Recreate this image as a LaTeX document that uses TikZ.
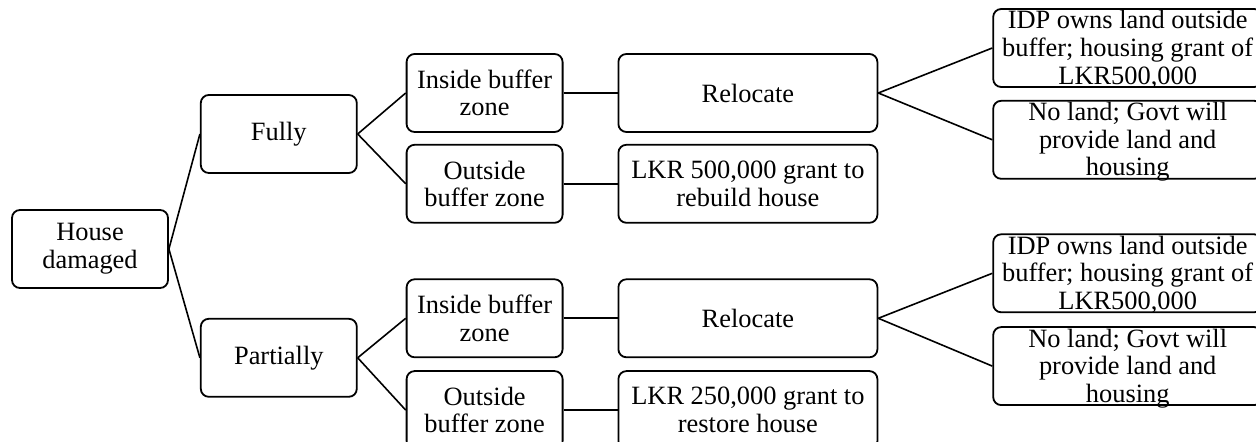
\documentclass[tikz,border=0pt]{standalone}
\usepackage{fontspec}
\setmainfont{Liberation Serif}
\usepackage{tikz}
\usetikzlibrary{positioning}

\begin{document}
\begin{tikzpicture}[inner sep=2pt]
\tikzstyle{choice}=[rectangle, rounded corners=4pt, draw=black, line width=0.9pt, minimum width=78pt, minimum height=39pt, align=center, font=\fontsize{13.2pt}{13.8pt}\selectfont]
\tikzstyle{action}=[choice, minimum width=129.5pt]
\tikzstyle{option}=[choice, minimum width=134.5pt, inner sep=0pt, text height=37.6pt, text depth=1.4pt]
\tikzstyle{link}=[line width=0.8pt]
\useasboundingbox (-45pt,124.5pt) rectangle (583pt,-96.5pt);
\node[choice] (house) at (0,0) {House\\damaged};
\node[choice] (fully) [right=15.5pt of house, yshift=57.5pt] {Fully};
\node[choice] (partially) [below=72pt of fully] {Partially};
% fully damaged
\node[choice] (in1) [right=24pt of fully, yshift=20.5pt] {Inside buffer\\zone};
\node[choice] (out1) [below=5.5pt of in1] {Outside\\buffer zone};
\node[action] (rel1) [right=27pt of in1] {Relocate};
\node[action] (grant1) [right=27pt of out1] {LKR 500,000 grant to\\rebuild house};
\node[option] (idp1) [right=57pt of rel1, yshift=22.5pt] {IDP owns land outside\\buffer; housing grant of\\LKR500,000};
\node[option] (noland1) [below=6pt of idp1] {No land; Govt will\\provide land and\\housing};
% partially damaged
\node[choice] (in2) [right=24pt of partially, yshift=19.75pt] {Inside buffer\\zone};
\node[choice] (out2) [below=6pt of in2] {Outside\\buffer zone};
\node[action] (rel2) [right=27pt of in2] {Relocate};
\node[action] (grant2) [right=27pt of out2] {LKR 250,000 grant to\\restore house};
\node[option] (idp2) [right=57pt of rel2, yshift=22.5pt] {IDP owns land outside\\buffer; housing grant of\\LKR500,000};
\node[option] (noland2) [below=6.5pt of idp2] {No land; Govt will\\provide land and\\housing};
\path (house.east) edge[link] (fully.west) edge[link] (partially.west);
\path (fully.east) edge[link] (in1.west) edge[link] (out1.west);
\path (partially.east) edge[link] (in2.west) edge[link] (out2.west);
\path (in1) edge[link] (rel1);
\path (out1) edge[link] (grant1);
\path (in2) edge[link] (rel2);
\path (out2) edge[link] (grant2);
\path (rel1.east) edge[link] (idp1.west) edge[link] (noland1.west);
\path (rel2.east) edge[link] (idp2.west) edge[link] (noland2.west);
\end{tikzpicture}
\end{document}
